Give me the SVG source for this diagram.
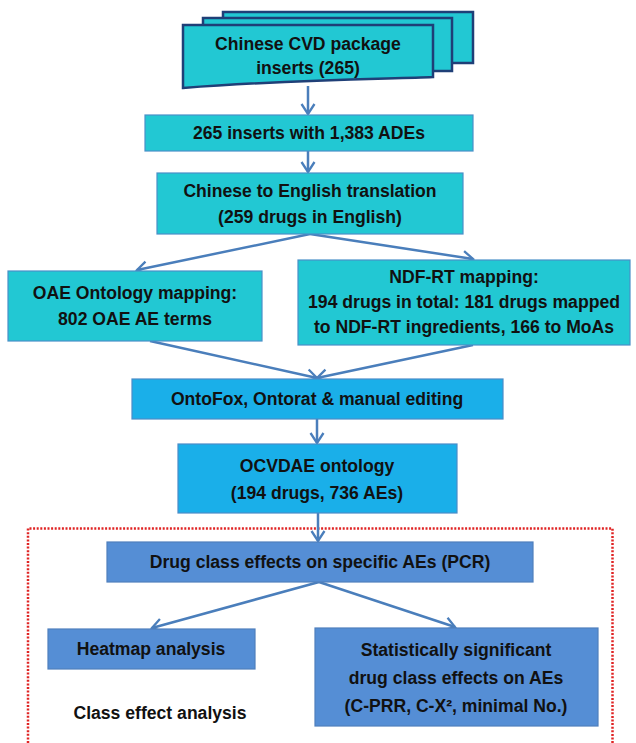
<svg xmlns="http://www.w3.org/2000/svg" width="636" height="743" viewBox="0 0 636 743">
<defs>
<style>
.t{font-family:"Liberation Sans",Arial,sans-serif;font-weight:bold;font-size:17.6px;fill:#111;text-anchor:middle;dominant-baseline:central}
.doc{fill:#22C8D3;stroke:#1F3F77;stroke-width:2.5}
.tq{fill:#22C8D3;stroke:#4A90C8;stroke-width:1.2}
.sky{fill:#1AAFE9;stroke:#4A8CC8;stroke-width:1.2}
.stl{fill:#558ED5;stroke:#4F7FBD;stroke-width:1.2}
.c{stroke:#4A7EBB;stroke-width:2.5;fill:none;marker-end:url(#ah)}
</style>
<marker id="ah" viewBox="0 0 16 16" refX="14" refY="8" markerWidth="16" markerHeight="16" markerUnits="userSpaceOnUse" orient="auto">
<path d="M4,1.5 L14,8 L4,14.5" fill="none" stroke="#4A7EBB" stroke-width="2.3"/>
</marker>
</defs>
<rect width="636" height="743" fill="#fff"/>
<path d="M28,743 V528.5 H612.5 V743" fill="none" stroke="#E02424" stroke-width="2.5" stroke-dasharray="2 1.6"/>
<g id="connectors">
<line class="c" x1="308" y1="86" x2="308" y2="114"/>
<line class="c" x1="308" y1="151" x2="308" y2="172"/>
<line class="c" x1="310" y1="234" x2="137" y2="270"/>
<line class="c" x1="310" y1="234" x2="473" y2="259"/>
<line class="c" x1="150" y1="341" x2="317" y2="378"/>
<line class="c" x1="473" y1="345" x2="317" y2="378"/>
<line class="c" x1="317" y1="419" x2="317" y2="443"/>
<line class="c" x1="318" y1="513" x2="318" y2="541"/>
<line class="c" x1="319" y1="582" x2="152" y2="628"/>
<line class="c" x1="319" y1="582" x2="455" y2="627"/>
</g>
<g id="n1">
<rect class="doc" x="223" y="12" width="250" height="51"/>
<rect class="doc" x="203" y="18" width="249" height="53"/>
<path class="doc" d="M183,25 H433 V77 C390,79 300,79 183,88 Z"/>
<text class="t" x="308" y="44">Chinese CVD package</text>
<text class="t" x="308" y="68">inserts (265)</text>
</g>
<g id="n2">
<rect class="tq" x="145" y="115" width="328" height="36"/>
<text class="t" x="309" y="133">265 inserts with 1,383 ADEs</text>
</g>
<g id="n3">
<rect class="tq" x="157" y="173" width="306" height="61"/>
<text class="t" x="310" y="191">Chinese to English translation</text>
<text class="t" x="310" y="217">(259 drugs in English)</text>
</g>
<g id="n4">
<rect class="tq" x="8" y="271" width="254" height="70"/>
<text class="t" x="135" y="293">OAE Ontology mapping:</text>
<text class="t" x="135" y="319">802 OAE AE terms</text>
</g>
<g id="n5">
<rect class="tq" x="298" y="260" width="332" height="85"/>
<text class="t" x="464" y="277">NDF-RT mapping:</text>
<text class="t" x="464" y="302">194 drugs in total: 181 drugs mapped</text>
<text class="t" x="464" y="327">to NDF-RT ingredients, 166 to MoAs</text>
</g>
<g id="n6">
<rect class="sky" x="132" y="379" width="371" height="40"/>
<text class="t" x="317" y="399">OntoFox, Ontorat &amp; manual editing</text>
</g>
<g id="n7">
<rect class="sky" x="178" y="444" width="279" height="69"/>
<text class="t" x="317" y="466">OCVDAE ontology</text>
<text class="t" x="317" y="493">(194 drugs, 736 AEs)</text>
</g>
<g id="n8">
<rect class="stl" x="107" y="542" width="426" height="40"/>
<text class="t" x="320" y="562">Drug class effects on specific AEs (PCR)</text>
</g>
<g id="n9">
<rect class="stl" x="48" y="629" width="207" height="40"/>
<text class="t" x="151" y="649">Heatmap analysis</text>
</g>
<g id="n10">
<rect class="stl" x="315" y="628" width="283" height="98"/>
<text class="t" x="456" y="650">Statistically significant</text>
<text class="t" x="456" y="678">drug class effects on AEs</text>
<text class="t" x="456" y="706">(C-PRR, C-X², minimal No.)</text>
</g>
<g id="label">
<text class="t" x="160" y="713">Class effect analysis</text>
</g>
</svg>
